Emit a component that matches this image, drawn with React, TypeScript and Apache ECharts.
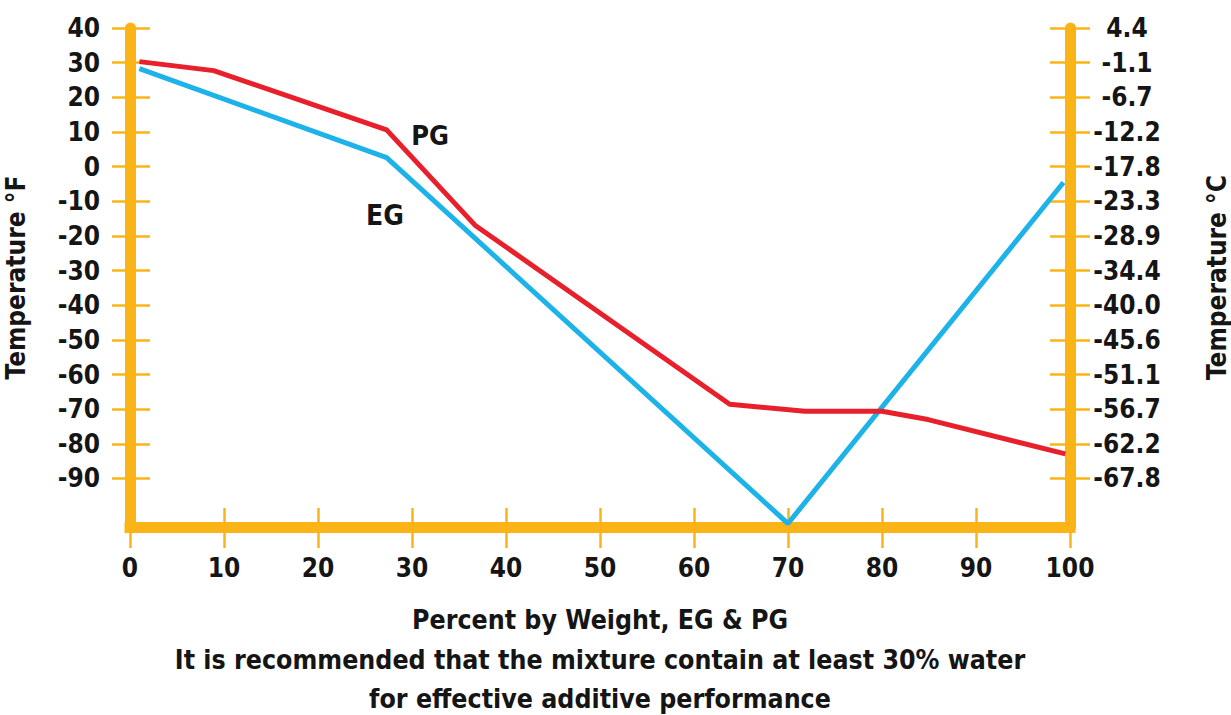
import React, { useEffect, useRef } from 'react';
import * as echarts from 'echarts';

// ---- data ----
const pgPercent = [1, 8.9, 27.3, 36.7, 63.8, 71.8, 80, 84.9, 99.5];
const pgTempF = [30.3, 27.7, 10.6, -16.9, -68.6, -70.6, -70.6, -73, -82.9];
const egPercent = [1, 27.3, 70, 99.3];
const egTempF = [28.3, 2.6, -103, -4.6];

const fahrenheitTicks = [40, 30, 20, 10, 0, -10, -20, -30, -40, -50, -60, -70, -80, -90];
const celsiusLabels = ['4.4', '-1.1', '-6.7', '-12.2', '-17.8', '-23.3', '-28.9', '-34.4', '-40.0', '-45.6', '-51.1', '-56.7', '-62.2', '-67.8'];
const percentTicks = [0, 10, 20, 30, 40, 50, 60, 70, 80, 90, 100];

const seriesNames = ['PG', 'EG'];
const leftTitle = 'Temperature °F';
const rightTitle = 'Temperature °C';
const xTitle = 'Percent by Weight, EG & PG';
const noteLines = [
  'It is recommended that the mixture contain at least 30% water',
  'for effective additive performance',
];

const FONT = "'Liberation Sans Narrow', 'DejaVu Sans Condensed', 'Arial Narrow', sans-serif";
const ORANGE = '#FBB417';
const RED = '#E8202C';
const BLUE = '#1DB3E8';
const TEXT = '#151515';

export default function App() {
  const ref = useRef<HTMLDivElement>(null);

  useEffect(() => {
    if (!ref.current) return;
    const chart = echarts.init(ref.current, undefined, { renderer: 'svg' });

    const labelStyle = { fontFamily: FONT, fontWeight: 'bold' as const, fontSize: 26, color: TEXT };
    const tickStyle = { color: ORANGE, width: 2.5 };
    const yMin = -104;
    const yMax = 40;

    const pgData = pgPercent.map((p, i) => [p, pgTempF[i]]);
    const egData = egPercent.map((p, i) => [p, egTempF[i]]);

    chart.setOption({
      animation: false,
      backgroundColor: '#ffffff',
      grid: { left: 130, right: 161, top: 28, bottom: 188, containLabel: false, outerBoundsMode: 'none' },
      xAxis: [
        {
          type: 'value', min: 0, max: 100, interval: 10, position: 'bottom',
          axisLine: { show: true, onZero: false, lineStyle: { color: ORANGE, width: 11, cap: 'square' } },
          axisTick: { show: true, length: 21, lineStyle: tickStyle, customValues: percentTicks },
          axisLabel: { ...labelStyle, margin: 28, showMinLabel: true, showMaxLabel: true, customValues: percentTicks },
          splitLine: { show: false },
          name: xTitle + '\n' + noteLines.join('\n'),
          nameLocation: 'middle',
          nameGap: 73,
          nameTextStyle: { fontFamily: FONT, fontWeight: 'bold', fontSize: 26.5, color: TEXT, lineHeight: 39.5, align: 'center' },
        },
        {
          type: 'value', min: 0, max: 100, interval: 10, position: 'bottom',
          axisLine: { show: false, onZero: false },
          axisTick: { show: true, inside: true, length: 19, lineStyle: tickStyle, customValues: percentTicks },
          axisLabel: { show: false },
          splitLine: { show: false },
        },
      ],
      yAxis: [
        {
          type: 'value', min: yMin, max: yMax, position: 'left',
          axisLine: { show: true, onZero: false, lineStyle: { color: ORANGE, width: 11 } },
          axisTick: { show: true, length: 18, lineStyle: tickStyle, customValues: fahrenheitTicks },
          axisLabel: { ...labelStyle, margin: 30, customValues: fahrenheitTicks },
          splitLine: { show: false },
          name: leftTitle, nameLocation: 'middle', nameRotate: 90, nameGap: 101,
          nameTextStyle: { fontFamily: FONT, fontWeight: 'bold', fontSize: 26, color: TEXT },
        },
        {
          type: 'value', min: yMin, max: yMax, position: 'right',
          axisLine: { show: true, onZero: false, lineStyle: { color: ORANGE, width: 11 } },
          axisTick: { show: true, length: 20, lineStyle: tickStyle, customValues: fahrenheitTicks },
          axisLabel: {
            ...labelStyle, margin: 57, align: 'center', customValues: fahrenheitTicks,
            formatter: (v: number) => {
              const i = fahrenheitTicks.indexOf(Math.round(v));
              return i >= 0 ? celsiusLabels[i] : '';
            },
          },
          splitLine: { show: false },
          name: rightTitle, nameLocation: 'middle', nameRotate: 90, nameGap: 134,
          nameTextStyle: { fontFamily: FONT, fontWeight: 'bold', fontSize: 26, color: TEXT },
        },
        {
          type: 'value', min: yMin, max: yMax, position: 'left',
          axisLine: { show: false, onZero: false },
          axisTick: { show: true, inside: true, length: 20, lineStyle: tickStyle, customValues: fahrenheitTicks },
          axisLabel: { show: false },
          splitLine: { show: false },
        },
        {
          type: 'value', min: yMin, max: yMax, position: 'right',
          axisLine: { show: false, onZero: false },
          axisTick: { show: true, inside: true, length: 20, lineStyle: tickStyle, customValues: fahrenheitTicks },
          axisLabel: { show: false },
          splitLine: { show: false },
        },
      ],
      series: [
        {
          name: seriesNames[0], type: 'line', data: pgData, xAxisIndex: 0, yAxisIndex: 0,
          symbol: 'none', lineStyle: { color: RED, width: 5 }, itemStyle: { color: RED }, z: 5,
        },
        {
          name: seriesNames[1], type: 'line', data: egData, xAxisIndex: 0, yAxisIndex: 0,
          symbol: 'none', lineStyle: { color: BLUE, width: 5 }, itemStyle: { color: BLUE }, z: 4,
        },
      ],
      graphic: [
        {
          type: 'text', x: 430, y: 135,
          style: { text: seriesNames[0], fontFamily: FONT, fontWeight: 'bold', fontSize: 27, fill: TEXT, align: 'center', verticalAlign: 'middle' },
        },
        {
          type: 'text', x: 385, y: 215,
          style: { text: seriesNames[1], fontFamily: FONT, fontWeight: 'bold', fontSize: 28, fill: TEXT, align: 'center', verticalAlign: 'middle' },
        },
      ],
    });

    return () => chart.dispose();
  }, []);

  return (
    <div
      ref={ref}
      style={{ position: 'absolute', left: 0, top: 0, width: 1231, height: 715, background: '#fff' }}
    />
  );
}
